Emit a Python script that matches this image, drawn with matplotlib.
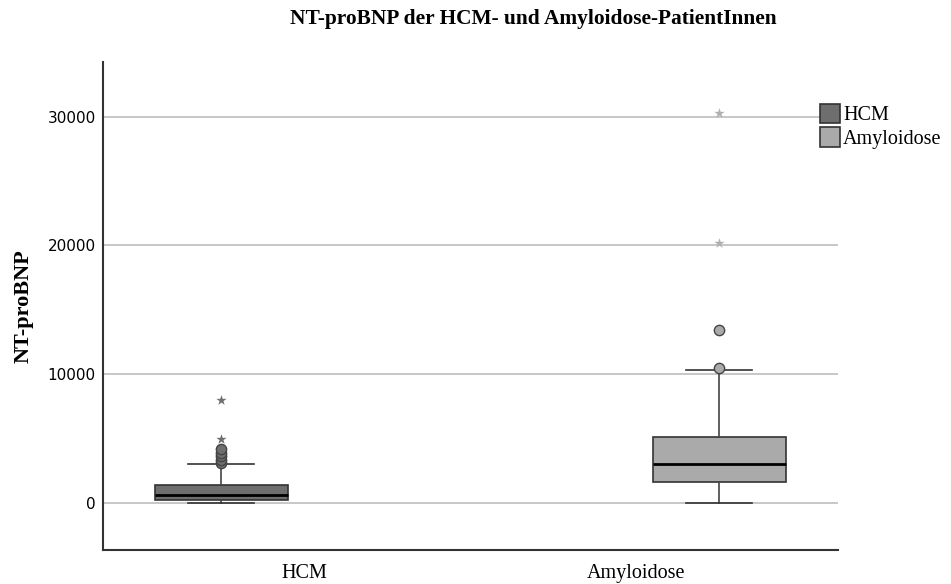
import matplotlib.pyplot as plt
from matplotlib.patches import Patch

groups = ["HCM", "Amyloidose"]
colors = ["#6e6e6e", "#aaaaaa"]

# box statistics
q1 = [240, 1600]
med = [640, 3020]
q3 = [1400, 5130]
whislo = [40, 30]
whishi = [3030, 10300]
outliers_circle = [[3100, 3350, 3650, 3900, 4200], [10450, 13450]]
outliers_star = [[5000, 8000], [20200, 30300]]

fig, ax = plt.subplots(figsize=(9.51, 5.84), dpi=100)
fig.subplots_adjust(left=0.108, right=0.881, top=0.893, bottom=0.058)

stats = []
for i, g in enumerate(groups):
    stats.append(dict(label=g, q1=q1[i], med=med[i], q3=q3[i],
                      whislo=whislo[i], whishi=whishi[i], fliers=[]))

# clustered layout: each group sits in its own slot of its category
cats = [0, 1]
offs = [-0.25, 0.25]
pos = [c + o for c, o in zip(cats, offs)]
bp = ax.bxp(stats, positions=pos, widths=0.4, capwidths=0.2,
            patch_artist=True, showfliers=False,
            medianprops=dict(color="black", linewidth=2),
            whiskerprops=dict(color="#444444", linewidth=1.2),
            capprops=dict(color="#333333", linewidth=1.2),
            boxprops=dict(edgecolor="#333333", linewidth=1.2))
for patch, c in zip(bp["boxes"], colors):
    patch.set_facecolor(c)
for i in range(2):
    ax.scatter([pos[i]] * len(outliers_circle[i]), outliers_circle[i], s=55,
               facecolor=colors[i], edgecolor="#444444", linewidth=1, zorder=4)
    ax.scatter([pos[i]] * len(outliers_star[i]), outliers_star[i], s=60,
               marker="*", color=colors[i] if i == 0 else "#b0b0b0",
               linewidth=0, zorder=4)

ax.set_xlim(-0.607, 1.607)
ax.set_ylim(-3650, 34200)
ax.set_yticks([0, 10000, 20000, 30000])
ax.yaxis.grid(True, color="#bdbdbd", linewidth=1.2)
ax.set_axisbelow(True)
ax.tick_params(length=0)
ax.tick_params(axis="y", labelsize=11, pad=5)
ax.set_xticks(cats)
ax.set_xticklabels(groups, fontfamily="Liberation Serif", fontsize=14.5)
ax.tick_params(axis="x", pad=10)
for s in ["top", "right"]:
    ax.spines[s].set_visible(False)
for s in ["left", "bottom"]:
    ax.spines[s].set_color("#333333")
    ax.spines[s].set_linewidth(1.5)

ax.set_ylabel("NT-proBNP", fontfamily="Liberation Serif", fontweight="bold",
              fontsize=16, labelpad=10)
fig.suptitle("NT-proBNP der HCM- und Amyloidose-PatientInnen",
             fontfamily="Liberation Serif", fontweight="bold", fontsize=15.4,
             x=0.561, y=0.985)

handles = [Patch(facecolor=c, edgecolor="#333333", linewidth=1.2) for c in colors]
ax.legend(handles, groups, loc="upper left", bbox_to_anchor=(0.9755, 0.915),
          frameon=False, handlelength=1.0, handleheight=1.1, handletextpad=0.15,
          labelspacing=0.1, borderpad=0, borderaxespad=0,
          prop=dict(family="Liberation Serif", size=14.5))

fig.savefig("out.png", dpi=100)
